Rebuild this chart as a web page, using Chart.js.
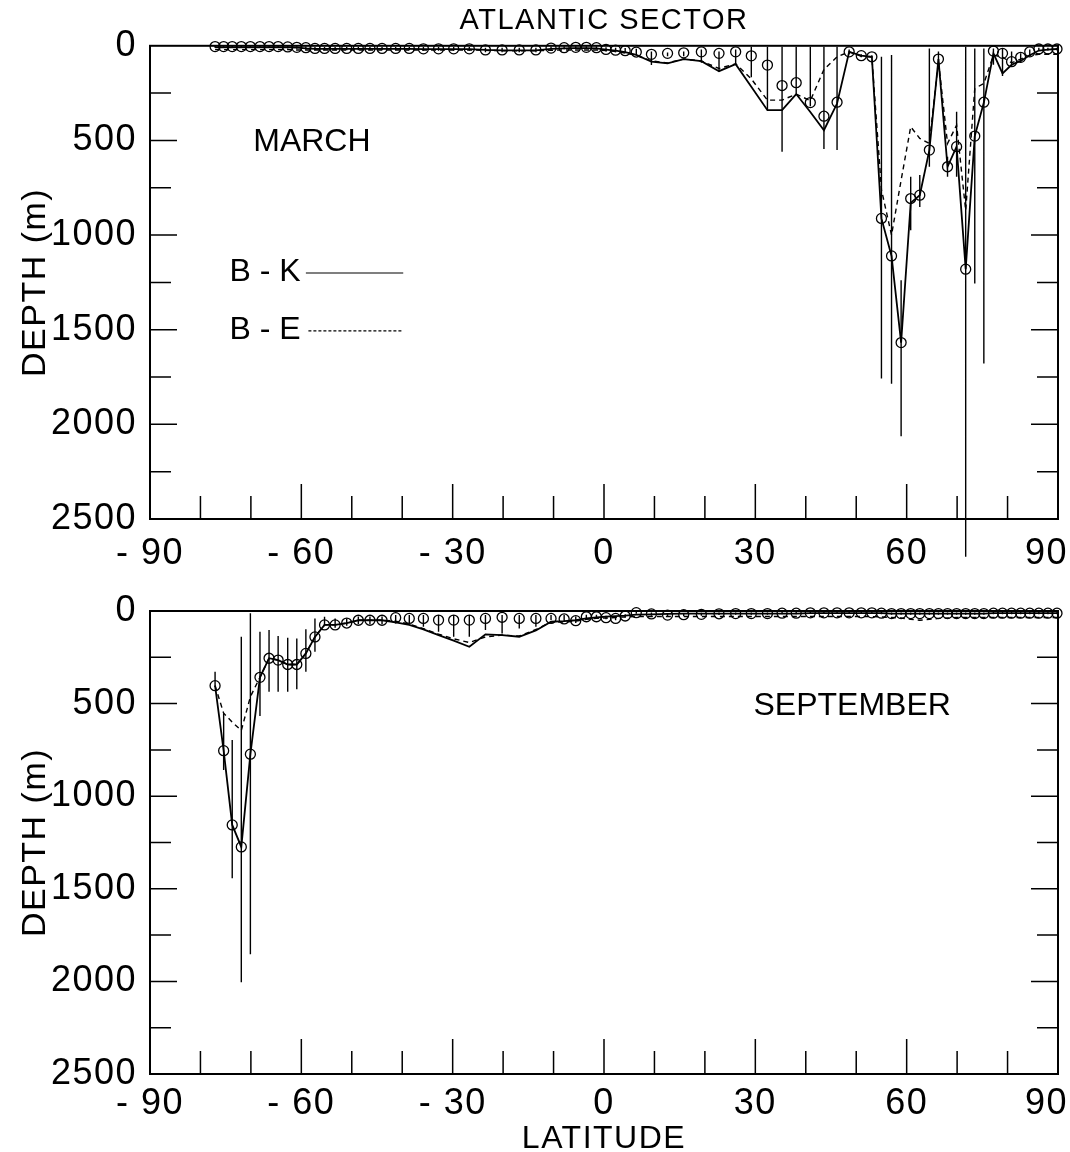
<!DOCTYPE html>
<html>
<head>
<meta charset="utf-8">
<title>Atlantic sector - mixed layer depth</title>
<script src="https://cdn.jsdelivr.net/npm/chart.js@4.4.1/dist/chart.umd.min.js"></script>
<style>
  body { margin: 0; background: #fff; }
  canvas { display: block; }
</style>
</head>
<body>
<canvas id="march" width="1070" height="580"></canvas>
<canvas id="september" width="1070" height="572"></canvas>
<script>
// latitude of each grid row (shared by both months)
const LAT = [-77.1, -75.4, -73.7, -71.9, -70.1, -68.2, -66.4, -64.6, -62.7, -60.9,
  -59.1, -57.3, -55.4, -53.3, -51.0, -48.7, -46.4, -44.0, -41.3, -38.6,
  -35.8, -32.8, -29.8, -26.7, -23.5, -20.2, -16.8, -13.5, -10.5, -7.9,
  -5.6, -3.5, -1.5, 0.4, 2.3, 4.2, 6.4, 9.4, 12.6, 15.8,
  19.3, 22.8, 26.1, 29.2, 32.4, 35.3, 38.1, 40.9, 43.6, 46.2,
  48.6, 51.0, 53.1, 55.0, 57.0, 58.9, 60.8, 62.6, 64.5, 66.3,
  68.1, 69.9, 71.7, 73.5, 75.3, 77.2, 79.0, 80.8, 82.6, 84.4,
  86.2, 88.0, 89.8];

const LAT_TICKS = [-90, -60, -30, 0, 30, 60, 90];
const DEPTH_TICKS = [0, 500, 1000, 1500, 2000, 2500];

// March: observed depth (circles), its range (bars), B-K and B-E model depth
const MAR_OBS = [4, 4, 4, 4, 4, 4, 4, 4, 6, 8,
  10, 14, 14, 14, 14, 14, 14, 14, 14, 14,
  16, 16, 16, 16, 22, 22, 22, 22, 12, 10,
  8, 8, 10, 19, 23, 26, 33, 45, 40, 37,
  32, 40, 32, 53, 102, 210, 195, 300, 372, 298,
  32, 52, 58, 912, 1110, 1568, 807, 789, 551, 70,
  639, 533, 1180, 477, 298, 28, 40, 84, 61, 32,
  17, 17, 17];
const MAR_LO = [0, 0, 0, 0, 0, 0, 0, 0, 2, 3,
  4, 6, 6, 6, 6, 6, 6, 6, 6, 6,
  6, 6, 6, 6, 10, 10, 10, 10, 4, 3,
  2, 2, 3, 8, 10, 12, 15, 30, 35, 30,
  20, 30, 20, 5, 5, 5, 5, 5, 5, 5,
  20, 45, 50, 58, 49, 1238, 692, 683, 14, 30,
  586, 349, 5, 14, 14, 14, 14, 30, 40, 20,
  10, 10, 10];
const MAR_HI = [10, 10, 10, 10, 10, 10, 12, 12, 14, 16,
  20, 24, 24, 24, 24, 24, 24, 24, 24, 24,
  26, 26, 26, 26, 34, 34, 34, 34, 22, 18,
  16, 16, 18, 30, 34, 40, 50, 101, 55, 55,
  89, 137, 102, 166, 340, 560, 252, 320, 545, 550,
  45, 60, 65, 1758, 1785, 2063, 974, 851, 639, 110,
  692, 692, 2700, 1256, 1679, 100, 160, 110, 90, 50,
  25, 25, 25];
const MAR_BK = [8, 8, 8, 8, 8, 8, 8, 8, 8, 10,
  14, 16, 16, 16, 16, 16, 16, 16, 16, 16,
  18, 18, 18, 18, 22, 24, 24, 24, 16, 14,
  12, 12, 14, 20, 26, 34, 48, 84, 93, 70,
  81, 134, 97, 216, 340, 340, 255, 350, 446, 305,
  32, 52, 58, 912, 1110, 1568, 830, 789, 551, 70,
  639, 533, 1180, 477, 300, 40, 146, 100, 80, 50,
  25, 20, 17];
const MAR_BE = [20, 20, 20, 20, 20, 20, 20, 20, 20, 22,
  22, 22, 22, 22, 22, 22, 22, 22, 22, 22,
  22, 22, 22, 22, 24, 26, 26, 26, 24, 22,
  22, 22, 22, 25, 30, 38, 50, 80, 90, 70,
  80, 120, 95, 175, 287, 287, 255, 290, 125, 58,
  32, 55, 60, 760, 1000, 710, 428, 489, 516, 80,
  516, 419, 870, 225, 199, 49, 60, 90, 70, 50,
  45, 45, 45];

// September
const SEP_OBS = [403, 754, 1155, 1274, 773, 358, 255, 265, 289, 289,
  229, 140, 75, 75, 65, 50, 50, 50, 36, 40,
  40, 49, 49, 49, 40, 34, 40, 40, 40, 43,
  52, 31, 31, 36, 40, 27, 9, 16, 22, 20,
  18, 15, 14, 14, 14, 12, 12, 10, 10, 10,
  10, 10, 10, 12, 14, 14, 14, 14, 14, 14,
  14, 14, 14, 14, 14, 12, 12, 12, 12, 12,
  12, 12, 12];
const SEP_LO = [328, 552, 697, 139, 12, 112, 103, 135, 144, 148,
  99, 40, 31, 40, 40, 30, 30, 30, 22, 22,
  22, 22, 22, 22, 22, 22, 22, 22, 22, 22,
  30, 20, 20, 25, 28, 18, 3, 8, 12, 12,
  10, 8, 8, 8, 8, 6, 6, 5, 5, 5,
  5, 5, 5, 6, 8, 8, 8, 8, 8, 8,
  8, 8, 8, 8, 8, 6, 6, 6, 6, 6,
  6, 6, 6];
const SEP_HI = [409, 858, 1443, 2005, 1854, 567, 436, 436, 436, 423,
  328, 220, 76, 90, 80, 70, 70, 70, 67, 67,
  85, 112, 139, 139, 103, 121, 94, 85, 49, 55,
  65, 40, 40, 45, 50, 35, 15, 25, 32, 28,
  25, 22, 20, 20, 20, 18, 18, 15, 15, 15,
  15, 15, 15, 18, 20, 20, 20, 20, 20, 20,
  20, 20, 20, 20, 20, 18, 18, 18, 18, 18,
  18, 18, 18];
const SEP_BK = [403, 754, 1155, 1274, 773, 358, 255, 265, 289, 289,
  229, 140, 75, 75, 65, 50, 50, 50, 62, 75,
  99, 130, 160, 193, 126, 130, 139, 105, 58, 55,
  50, 40, 35, 30, 28, 25, 20, 18, 16, 14,
  14, 14, 14, 14, 14, 14, 14, 12, 12, 12,
  12, 12, 12, 12, 14, 14, 14, 14, 14, 14,
  14, 14, 14, 14, 14, 12, 12, 12, 12, 12,
  12, 12, 12];
const SEP_BE = [403, 552, 600, 645, 463, 358, 255, 265, 289, 289,
  229, 140, 75, 75, 65, 50, 50, 50, 55, 70,
  95, 125, 150, 170, 140, 130, 135, 100, 60, 60,
  55, 45, 40, 38, 35, 32, 30, 30, 30, 30,
  30, 30, 30, 30, 30, 30, 30, 30, 30, 30,
  30, 30, 30, 32, 35, 38, 45, 50, 45, 40,
  38, 35, 35, 35, 35, 35, 35, 35, 35, 35,
  35, 35, 35];

const FONT = '"Liberation Sans", Arial, sans-serif';

function pts(ys) {
  return LAT.map((x, i) => ({ x: x, y: ys[i] }));
}

// latitude label; the last one gets trailing blanks so it stays on the canvas
function latLabel(v) {
  if (v < 0) return '- ' + (-v);
  return v === 90 ? '90  ' : String(v);
}

// box, inward ticks, range bars and the text inside each panel
const panelDecor = {
  id: 'panelDecor',
  beforeDraw(chart) {
    chart.ctx.letterSpacing = '1.5px';
  },
  afterDatasetsDraw(chart, args, o) {
    const ctx = chart.ctx, a = chart.chartArea;
    const x = chart.scales.x, y = chart.scales.y;
    ctx.save();
    ctx.strokeStyle = '#000';
    ctx.fillStyle = '#000';

    ctx.lineWidth = 1.4;
    ctx.beginPath();
    o.lo.forEach((lo, i) => {
      const px = x.getPixelForValue(LAT[i]);
      ctx.moveTo(px, y.getPixelForValue(lo));
      ctx.lineTo(px, y.getPixelForValue(o.hi[i]));
    });
    ctx.stroke();

    ctx.lineWidth = 2;
    ctx.strokeRect(a.left, a.top, a.width, a.height);

    ctx.lineWidth = 1.5;
    ctx.beginPath();
    for (let d = 250; d < 2500; d += 250) {
      const py = y.getPixelForValue(d), len = d % 500 ? 21 : 27;
      ctx.moveTo(a.left, py); ctx.lineTo(a.left + len, py);
      ctx.moveTo(a.right, py); ctx.lineTo(a.right - len, py);
    }
    for (let l = -80; l < 90; l += 10) {
      const px = x.getPixelForValue(l), len = l % 30 ? 23 : 35;
      ctx.moveTo(px, a.bottom); ctx.lineTo(px, a.bottom - len);
    }
    ctx.stroke();

    ctx.font = '32px ' + FONT;
    ctx.letterSpacing = '0px';
    ctx.textAlign = 'center';
    ctx.textBaseline = 'middle';
    ctx.fillText(o.month, x.getPixelForValue(o.monthAt[0]), y.getPixelForValue(o.monthAt[1]));

    if (o.key) {
      o.key.forEach(k => {
        const py = y.getPixelForValue(k.depth);
        ctx.fillText(k.text, x.getPixelForValue(-67.2), py);
        ctx.lineWidth = 1.2;
        ctx.setLineDash(k.dash);
        ctx.beginPath();
        ctx.moveTo(x.getPixelForValue(k.from), py + 1);
        ctx.lineTo(x.getPixelForValue(-39.8), py + 1);
        ctx.stroke();
        ctx.setLineDash([]);
      });
    }
    ctx.restore();
  }
};

function makePanel(id, obs, lo, hi, bk, be, p) {
  return new Chart(document.getElementById(id), {
    type: 'scatter',
    data: {
      datasets: [
        { label: 'B-K', data: pts(bk), showLine: true, borderColor: '#000', borderWidth: 1.8, pointRadius: 0 },
        { label: 'B-E', data: pts(be), showLine: true, borderColor: '#000', borderWidth: 1.4, borderDash: [5, 4], pointRadius: 0 },
        { label: 'observed', data: pts(obs), pointRadius: 5, pointBorderWidth: 1.3,
          pointBorderColor: '#000', pointBackgroundColor: 'rgba(0,0,0,0)', clip: false }
      ]
    },
    options: {
      responsive: false,
      animation: false,
      events: [],
      layout: { padding: { top: p.padTop, right: 12, left: 0, bottom: 0 } },
      plugins: {
        legend: { display: false },
        tooltip: { enabled: false },
        title: {
          display: !!p.title, text: p.title, fullSize: false, color: '#000',
          font: { family: FONT, size: 29, weight: 'normal', lineHeight: 1.2 },
          padding: { top: 4, bottom: 7 }
        },
        panelDecor: { lo: lo, hi: hi, month: p.month, monthAt: p.monthAt, key: p.key }
      },
      scales: {
        x: {
          type: 'linear', min: -90, max: 90,
          afterBuildTicks: s => { s.ticks = LAT_TICKS.map(v => ({ value: v })); },
          afterFit: s => { s.height = p.xHeight; s.paddingLeft = 0; s.paddingRight = 0; },
          grid: { display: false },
          border: { display: false },
          ticks: {
            color: '#000', padding: p.xPad, maxRotation: 0, autoSkip: false,
            font: { family: FONT, size: 36 },
            callback: latLabel
          },
          title: {
            display: !!p.xTitle, text: p.xTitle, color: '#000',
            font: { family: FONT, size: 32, lineHeight: 0.8 },
            padding: { top: 0, bottom: 0 }
          }
        },
        y: {
          type: 'linear', min: 0, max: 2500, reverse: true,
          afterBuildTicks: s => { s.ticks = DEPTH_TICKS.map(v => ({ value: v })); },
          afterFit: s => { s.width = 150; s.paddingTop = 0; s.paddingBottom = 0; },
          grid: { display: false },
          border: { display: false },
          ticks: {
            color: '#000', padding: 5,
            font: { family: FONT, size: 36 },
            callback: v => String(v)
          },
          title: {
            display: true, text: 'DEPTH (m)', color: '#000',
            font: { family: FONT, size: 34, lineHeight: 1.2 },
            padding: { top: 15, bottom: 0 }
          }
        }
      }
    },
    plugins: [panelDecor]
  });
}

makePanel('march', MAR_OBS, MAR_LO, MAR_HI, MAR_BK, MAR_BE, {
  title: 'ATLANTIC SECTOR', padTop: 0, xHeight: 61, xPad: 5,
  month: 'MARCH', monthAt: [-57.9, 507],
  key: [
    { text: 'B - K', depth: 1195, from: -59.1, dash: [] },
    { text: 'B - E', depth: 1501, from: -58.6, dash: [3, 2] }
  ]
});

makePanel('september', SEP_OBS, SEP_LO, SEP_HI, SEP_BK, SEP_BE, {
  padTop: 31, xHeight: 78, xPad: 0, xTitle: 'LATITUDE',
  month: 'SEPTEMBER', monthAt: [49.2, 513]
});
</script>
</body>
</html>
